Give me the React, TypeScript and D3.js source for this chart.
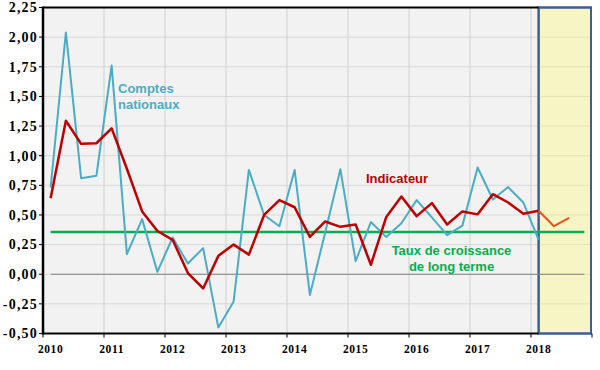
import React from "react";
import * as d3 from "d3";

const years = ["2010", "2011", "2012", "2013", "2014", "2015", "2016", "2017", "2018"];
const quarters = years.flatMap((y) => ["T1", "T2", "T3", "T4"].map((q) => `${y}${q}`));
const yTicks = [-0.5, -0.25, 0, 0.25, 0.5, 0.75, 1, 1.25, 1.5, 1.75, 2, 2.25];

const comptesNationaux = [
  0.73, 2.04, 0.81, 0.83, 1.76, 0.17, 0.465, 0.02, 0.31, 0.09, 0.22, -0.45, -0.23, 0.88, 0.5, 0.405,
  0.88, -0.175, 0.35, 0.885, 0.11, 0.44, 0.315, 0.43, 0.625, 0.48, 0.33, 0.41, 0.9, 0.63, 0.735, 0.605,
  0.29,
];
const indicateur = [
  0.64, 1.295, 1.1, 1.105, 1.23, 0.89, 0.53, 0.365, 0.29, 0.01, -0.12, 0.155, 0.25, 0.165, 0.5, 0.625,
  0.565, 0.315, 0.445, 0.4, 0.42, 0.08, 0.48, 0.655, 0.49, 0.6, 0.42, 0.53, 0.505, 0.675, 0.605, 0.51,
  0.535,
];
const prevision = [0.535, 0.405, 0.475];
const prevStart = 32;
const tauxLongTerme = 0.357;

const fmt = (v: number) => v.toFixed(2).replace(".", ",");

export default function App() {
  const W = 600, H = 370;
  const left = 43, right = 592, top = 7.5, bottom = 333.5;
  const x = d3.scaleBand<string>().domain(quarters).range([left, right]).padding(0);
  const cx = (i: number) => (x(quarters[i]) as number) + x.bandwidth() / 2;
  const y = d3.scaleLinear().domain([-0.5, 2.25]).range([bottom, top]);
  const line = d3.line<[number, number]>().x((d) => d[0]).y((d) => d[1]);
  const pts = (arr: number[], start = 0) => arr.map((v, i) => [cx(i + start), y(v)] as [number, number]);
  const boxX = cx(prevStart);
  const lastI = quarters.length - 1;
  const yearTickX = years.map((yr) => x(`${yr}T1`) as number);

  return (
    <svg width={W} height={H} style={{ position: "absolute", left: 0, top: 0, background: "#fff" }}>
      <rect x={left} y={top} width={boxX - left} height={bottom - top} fill="#f2f2f2" />
      {yTicks.map((t) => (
        <line key={t} x1={left} x2={boxX} y1={y(t)} y2={y(t)} stroke="#d9d9d9" strokeWidth={1} />
      ))}
      {yearTickX.slice(1).map((xx, i) => (
        <line key={i} x1={xx} x2={xx} y1={top} y2={bottom} stroke="#d0d0d0" strokeWidth={1} />
      ))}
      <rect x={boxX} y={top} width={right - 1 - boxX} height={bottom - top} fill="#f7f5c4" stroke="#3d5f8f" strokeWidth={2} />
      {yTicks.map((t) => (
        <line key={"b" + t} x1={boxX} x2={right - 1} y1={y(t)} y2={y(t)} stroke="#e6e2b0" strokeWidth={1} />
      ))}
      <rect x={boxX} y={top} width={right - 1 - boxX} height={bottom - top} fill="none" stroke="#3d5f8f" strokeWidth={2} />
      <line x1={cx(0)} x2={cx(lastI)} y1={y(0)} y2={y(0)} stroke="#808080" strokeWidth={1.2} />
      <line x1={cx(0)} x2={cx(lastI)} y1={y(tauxLongTerme)} y2={y(tauxLongTerme)} stroke="#00b050" strokeWidth={2.5} />
      <path d={line(pts(comptesNationaux)) as string} fill="none" stroke="#4bacc6" strokeWidth={2} strokeLinejoin="round" />
      <path d={line(pts(indicateur)) as string} fill="none" stroke="#c00000" strokeWidth={2.5} strokeLinejoin="round" />
      <path d={line(pts(prevision, prevStart)) as string} fill="none" stroke="#e4531e" strokeWidth={2} strokeLinejoin="round" />
      {/* axes */}
      <line x1={left} x2={boxX} y1={top} y2={top} stroke="#000" strokeWidth={2} />
      <line x1={left} x2={left} y1={top - 1} y2={bottom + 1} stroke="#000" strokeWidth={2.5} />
      <line x1={left} x2={boxX} y1={bottom} y2={bottom} stroke="#000" strokeWidth={2} />
      {yTicks.map((t) => (
        <line key={"t" + t} x1={left - 4} x2={left} y1={y(t)} y2={y(t)} stroke="#000" strokeWidth={1} />
      ))}
      {yearTickX.concat([right]).map((xx, i) => (
        <line key={"xt" + i} x1={xx} x2={xx} y1={bottom} y2={bottom + 4} stroke="#000" strokeWidth={1} />
      ))}
      {yTicks.map((t) => (
        <text key={"l" + t} x={38} y={y(t)} dy="0.35em" textAnchor="end" fontFamily="Liberation Serif" fontWeight="bold" fontSize={14} letterSpacing={1.2} fill="#000">
          {fmt(t)}
        </text>
      ))}
      {years.map((yr) => (
        <text key={"y" + yr} x={cx(quarters.indexOf(`${yr}T1`))} y={353} textAnchor="middle" fontFamily="Liberation Serif" fontWeight="bold" fontSize={11.5} letterSpacing={0.6} fill="#000">
          {yr}
        </text>
      ))}
      <g fontFamily="Liberation Sans" fontWeight="bold" fontSize={13}>
        <text x={118} y={93} fill="#4bacc6">Comptes</text>
        <text x={118} y={108.5} fill="#4bacc6">nationaux</text>
        <text x={366} y={183} fill="#c00000">Indicateur</text>
        <text x={451.5} y={255} fill="#00b050" textAnchor="middle">Taux de croissance</text>
        <text x={451.5} y={270.5} fill="#00b050" textAnchor="middle">de long terme</text>
      </g>
    </svg>
  );
}
